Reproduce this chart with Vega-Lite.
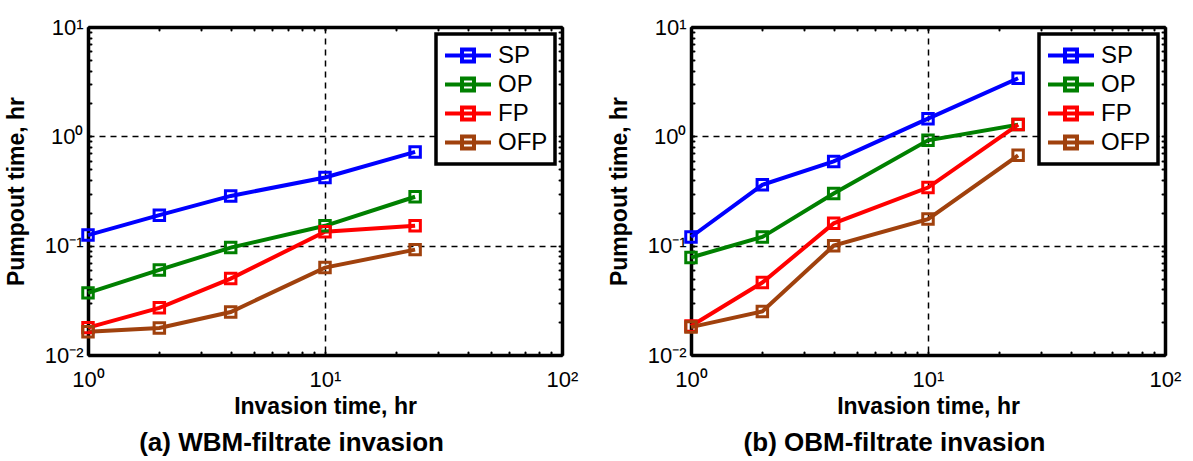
{
  "$schema": "https://vega.github.io/schema/vega-lite/v6.json",
  "background": "white",
  "padding": {"left": 5, "top": 16, "right": 8, "bottom": 0},
  "spacing": 30,
  "config": {
    "font": "Liberation Sans",
    "view": {"stroke": null},
    "axis": {
      "domainColor": "black",
      "domainWidth": 3.5,
      "tickColor": "black",
      "tickSize": -3,
      "tickWidth": 2,
      "tickCap": "round",
      "labelFontSize": 22,
      "labelColor": "black",
      "labelFont": "Liberation Sans",
      "titleFontSize": 23,
      "titleFontWeight": "bold",
      "titleColor": "black",
      "titleFont": "Liberation Sans"
    },
    "legend": {
      "orient": "top-right",
      "title": null,
      "fillColor": "white",
      "strokeColor": "black",
      "strokeWidth": 3.5,
      "padding": 7,
      "labelFontSize": 24,
      "labelFont": "Liberation Sans",
      "labelColor": "black",
      "labelOffset": 26,
      "rowPadding": 0,
      "symbolStrokeWidth": 4,
      "symbolSize": 625,
      "symbolType": "M-1,0H2.68M0.36,-0.48H1.32V0.48H0.36Z",
      "symbolFillColor": "transparent"
    }
  },
  "datasets": {
    "wbm": [
      {"series": "SP", "t": 1, "p": 0.125}, {"series": "SP", "t": 2, "p": 0.19}, {"series": "SP", "t": 4, "p": 0.285}, {"series": "SP", "t": 10, "p": 0.42}, {"series": "SP", "t": 24, "p": 0.72},
      {"series": "OP", "t": 1, "p": 0.037}, {"series": "OP", "t": 2, "p": 0.06}, {"series": "OP", "t": 4, "p": 0.096}, {"series": "OP", "t": 10, "p": 0.152}, {"series": "OP", "t": 24, "p": 0.28},
      {"series": "FP", "t": 1, "p": 0.0178}, {"series": "FP", "t": 2, "p": 0.027}, {"series": "FP", "t": 4, "p": 0.05}, {"series": "FP", "t": 10, "p": 0.134}, {"series": "FP", "t": 24, "p": 0.152},
      {"series": "OFP", "t": 1, "p": 0.0163}, {"series": "OFP", "t": 2, "p": 0.0177}, {"series": "OFP", "t": 4, "p": 0.0247}, {"series": "OFP", "t": 10, "p": 0.063}, {"series": "OFP", "t": 24, "p": 0.092}
    ],
    "obm": [
      {"series": "SP", "t": 1, "p": 0.12}, {"series": "SP", "t": 2, "p": 0.36}, {"series": "SP", "t": 4, "p": 0.59}, {"series": "SP", "t": 10, "p": 1.45}, {"series": "SP", "t": 24, "p": 3.4},
      {"series": "OP", "t": 1, "p": 0.078}, {"series": "OP", "t": 2, "p": 0.12}, {"series": "OP", "t": 4, "p": 0.3}, {"series": "OP", "t": 10, "p": 0.92}, {"series": "OP", "t": 24, "p": 1.28},
      {"series": "FP", "t": 1, "p": 0.0184}, {"series": "FP", "t": 2, "p": 0.046}, {"series": "FP", "t": 4, "p": 0.16}, {"series": "FP", "t": 10, "p": 0.34}, {"series": "FP", "t": 24, "p": 1.28},
      {"series": "OFP", "t": 1, "p": 0.018}, {"series": "OFP", "t": 2, "p": 0.025}, {"series": "OFP", "t": 4, "p": 0.1}, {"series": "OFP", "t": 10, "p": 0.175}, {"series": "OFP", "t": 24, "p": 0.67}
    ]
  },
  "resolve": {"scale": {"color": "independent"}, "legend": {"color": "independent"}},
  "hconcat": [
    {
      "width": 474,
      "height": 328,
      "data": {"name": "wbm"},
      "title": {"text": "(a) WBM-filtrate invasion", "orient": "bottom", "frame": "bounds", "fontSize": 26, "fontWeight": "bold", "color": "black", "offset": 12, "font": "Liberation Sans"},
      "resolve": {"axis": {"x": "independent", "y": "independent"}},
      "layer": [
        {
          "mark": {"type": "line", "strokeWidth": 4},
          "encoding": {
            "x": {"field": "t", "type": "quantitative", "scale": {"type": "log", "domain": [1, 100]},
              "axis": {"orient": "bottom", "title": "Invasion time, hr", "titlePadding": 5, "labelPadding": 17,
                "values": [1, 2, 3, 4, 5, 6, 7, 8, 9, 10, 20, 30, 40, 50, 60, 70, 80, 90, 100],
                "labelExpr": "datum.value == 1 ? '10⁰' : datum.value == 10 ? '10¹' : datum.value == 100 ? '10²' : ''",
                "labelOverlap": false, "labelFlush": false,
                "grid": true, "gridColor": "black", "gridWidth": 1.5, "gridDash": [6, 5],
                "gridOpacity": {"condition": {"test": "datum.value == 10", "value": 1}, "value": 0}}},
            "y": {"field": "p", "type": "quantitative", "scale": {"type": "log", "domain": [0.01, 10]},
              "axis": {"orient": "left", "title": "Pumpout time, hr", "titlePadding": 16, "labelPadding": 8,
                "values": [0.01, 0.02, 0.03, 0.04, 0.05, 0.06, 0.07, 0.08, 0.09, 0.1, 0.2, 0.3, 0.4, 0.5, 0.6, 0.7, 0.8, 0.9, 1, 2, 3, 4, 5, 6, 7, 8, 9, 10],
                "labelExpr": "datum.value == 0.01 ? '10⁻²' : datum.value == 0.1 ? '10⁻¹' : datum.value == 1 ? '10⁰' : datum.value == 10 ? '10¹' : ''",
                "labelOverlap": false, "labelFlush": false,
                "grid": true, "gridColor": "black", "gridWidth": 1.5, "gridDash": [6, 5],
                "gridOpacity": {"condition": {"test": "datum.value == 1 || datum.value == 0.1", "value": 1}, "value": 0}}},
            "color": {"field": "series", "type": "nominal",
              "scale": {"domain": ["SP", "OP", "FP", "OFP"], "range": ["#0000ff", "#008000", "#ff0000", "#a0410d"]},
              "legend": {"offset": 7}}
          }
        },
        {
          "mark": {"type": "point", "shape": "square", "size": 110, "strokeWidth": 3, "filled": false, "opacity": 1},
          "encoding": {
            "x": {"field": "t", "type": "quantitative", "scale": {"type": "log", "domain": [1, 100]},
              "axis": {"orient": "top", "title": null, "labels": false,
                "values": [1, 2, 3, 4, 5, 6, 7, 8, 9, 10, 20, 30, 40, 50, 60, 70, 80, 90, 100]}},
            "y": {"field": "p", "type": "quantitative", "scale": {"type": "log", "domain": [0.01, 10]},
              "axis": {"orient": "right", "title": null, "labels": false,
                "values": [0.01, 0.02, 0.03, 0.04, 0.05, 0.06, 0.07, 0.08, 0.09, 0.1, 0.2, 0.3, 0.4, 0.5, 0.6, 0.7, 0.8, 0.9, 1, 2, 3, 4, 5, 6, 7, 8, 9, 10]}},
            "color": {"field": "series", "type": "nominal"}
          }
        }
      ]
    },
    {
      "width": 474,
      "height": 328,
      "data": {"name": "obm"},
      "title": {"text": "(b) OBM-filtrate invasion", "orient": "bottom", "frame": "bounds", "fontSize": 26, "fontWeight": "bold", "color": "black", "offset": 12, "font": "Liberation Sans"},
      "resolve": {"axis": {"x": "independent", "y": "independent"}},
      "layer": [
        {
          "mark": {"type": "line", "strokeWidth": 4},
          "encoding": {
            "x": {"field": "t", "type": "quantitative", "scale": {"type": "log", "domain": [1, 100]},
              "axis": {"orient": "bottom", "title": "Invasion time, hr", "titlePadding": 5, "labelPadding": 17,
                "values": [1, 2, 3, 4, 5, 6, 7, 8, 9, 10, 20, 30, 40, 50, 60, 70, 80, 90, 100],
                "labelExpr": "datum.value == 1 ? '10⁰' : datum.value == 10 ? '10¹' : datum.value == 100 ? '10²' : ''",
                "labelOverlap": false, "labelFlush": false,
                "grid": true, "gridColor": "black", "gridWidth": 1.5, "gridDash": [6, 5],
                "gridOpacity": {"condition": {"test": "datum.value == 10", "value": 1}, "value": 0}}},
            "y": {"field": "p", "type": "quantitative", "scale": {"type": "log", "domain": [0.01, 10]},
              "axis": {"orient": "left", "title": "Pumpout time, hr", "titlePadding": 16, "labelPadding": 8,
                "values": [0.01, 0.02, 0.03, 0.04, 0.05, 0.06, 0.07, 0.08, 0.09, 0.1, 0.2, 0.3, 0.4, 0.5, 0.6, 0.7, 0.8, 0.9, 1, 2, 3, 4, 5, 6, 7, 8, 9, 10],
                "labelExpr": "datum.value == 0.01 ? '10⁻²' : datum.value == 0.1 ? '10⁻¹' : datum.value == 1 ? '10⁰' : datum.value == 10 ? '10¹' : ''",
                "labelOverlap": false, "labelFlush": false,
                "grid": true, "gridColor": "black", "gridWidth": 1.5, "gridDash": [6, 5],
                "gridOpacity": {"condition": {"test": "datum.value == 1 || datum.value == 0.1", "value": 1}, "value": 0}}},
            "color": {"field": "series", "type": "nominal",
              "scale": {"domain": ["SP", "OP", "FP", "OFP"], "range": ["#0000ff", "#008000", "#ff0000", "#a0410d"]},
              "legend": {"offset": 7}}
          }
        },
        {
          "mark": {"type": "point", "shape": "square", "size": 110, "strokeWidth": 3, "filled": false, "opacity": 1},
          "encoding": {
            "x": {"field": "t", "type": "quantitative", "scale": {"type": "log", "domain": [1, 100]},
              "axis": {"orient": "top", "title": null, "labels": false,
                "values": [1, 2, 3, 4, 5, 6, 7, 8, 9, 10, 20, 30, 40, 50, 60, 70, 80, 90, 100]}},
            "y": {"field": "p", "type": "quantitative", "scale": {"type": "log", "domain": [0.01, 10]},
              "axis": {"orient": "right", "title": null, "labels": false,
                "values": [0.01, 0.02, 0.03, 0.04, 0.05, 0.06, 0.07, 0.08, 0.09, 0.1, 0.2, 0.3, 0.4, 0.5, 0.6, 0.7, 0.8, 0.9, 1, 2, 3, 4, 5, 6, 7, 8, 9, 10]}},
            "color": {"field": "series", "type": "nominal"}
          }
        }
      ]
    }
  ]
}
